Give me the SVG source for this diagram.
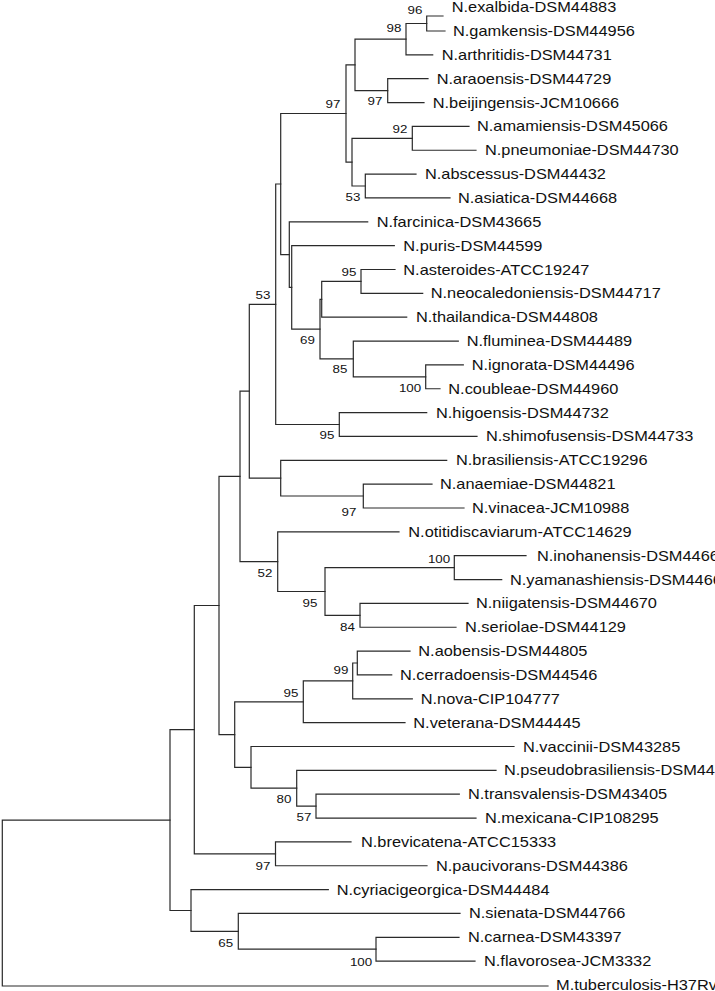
<svg xmlns="http://www.w3.org/2000/svg" width="715" height="991" viewBox="0 0 715 991">
<style>
.br{fill:none;stroke:#2a2a2a;stroke-width:1.2;stroke-linecap:square}
.lf{font-family:"Liberation Sans",Arial,sans-serif;font-size:14px;fill:#111}
.bs{font-family:"Liberation Sans",Arial,sans-serif;font-size:11.5px;fill:#111;text-anchor:middle}
</style>
<rect width="715" height="991" fill="#fff"/>
<g id="connectors">
<path class="br" d="M443,16 H426.7 V31 H445"/>
<path class="br" d="M426.7,23.5 H406 V54.85 H432.7"/>
<path class="br" d="M428,78.7 H387.7 V102.55 H424"/>
<path class="br" d="M406,39.2 H355 V90.6 H387.7"/>
<path class="br" d="M469,126.4 H412.3 V150.25 H476"/>
<path class="br" d="M416,174.1 H365.3 V197.95 H450"/>
<path class="br" d="M412.3,138.3 H352 V186 H365.3"/>
<path class="br" d="M355,64.9 H346 V162.2 H352"/>
<path class="br" d="M395,269.5 H361 V293.35 H422.7"/>
<path class="br" d="M361,281.4 H321.7 V317.2 H406.7"/>
<path class="br" d="M463.3,364.9 H425.7 V388.75 H440"/>
<path class="br" d="M458.3,341.05 H353.3 V376.8 H425.7"/>
<path class="br" d="M321.7,299.3 H320 V358.9 H353.3"/>
<path class="br" d="M394.3,245.65 H291.7 V329.1 H320"/>
<path class="br" d="M367.7,221.8 H289.3 V287.4 H291.7"/>
<path class="br" d="M346,113.5 H280.7 V254.6 H289.3"/>
<path class="br" d="M426.7,412.6 H339.3 V436.45 H477"/>
<path class="br" d="M280.7,184 H275.7 V424.5 H339.3"/>
<path class="br" d="M432,484.15 H363.3 V508 H464"/>
<path class="br" d="M446.7,460.3 H280.7 V496 H363.3"/>
<path class="br" d="M275.7,304.3 H249.3 V478.2 H280.7"/>
<path class="br" d="M526,555.7 H454.3 V579.55 H501.7"/>
<path class="br" d="M468,603.4 H360 V627.25 H456"/>
<path class="br" d="M454.3,567.6 H325 V615.3 H360"/>
<path class="br" d="M399,531.85 H277.7 V591.5 H325"/>
<path class="br" d="M249.3,391.2 H240 V561.7 H277.7"/>
<path class="br" d="M410,651.1 H357.3 V674.95 H391.7"/>
<path class="br" d="M357.3,663 H352.7 V698.8 H412.3"/>
<path class="br" d="M352.7,680.9 H303.3 V722.65 H405"/>
<path class="br" d="M459.3,794.2 H316 V818.05 H476"/>
<path class="br" d="M496,770.35 H296.7 V806.1 H316"/>
<path class="br" d="M514,746.5 H251 V788.2 H296.7"/>
<path class="br" d="M303.3,701.8 H234.7 V767.4 H251"/>
<path class="br" d="M240,476.4 H219 V734.6 H234.7"/>
<path class="br" d="M351,841.9 H275.5 V865.75 H427"/>
<path class="br" d="M219,605.5 H194.3 V853.8 H275.5"/>
<path class="br" d="M459,937.3 H376 V961.15 H475"/>
<path class="br" d="M460,913.45 H238.3 V949.2 H376"/>
<path class="br" d="M328.3,889.6 H191 V931.3 H238.3"/>
<path class="br" d="M194.3,729.7 H170 V910.5 H191"/>
<path class="br" d="M170,820.1 H2.3 V986 H548"/>
</g>
<g id="leaves">
<g id="leaf-exalbida"><text class="lf" transform="translate(451.7,12) scale(1.17,1)">N.exalbida-DSM44883</text></g>
<g id="leaf-gamkensis"><text class="lf" transform="translate(453,36) scale(1.17,1)">N.gamkensis-DSM44956</text></g>
<g id="leaf-arthritidis"><text class="lf" transform="translate(441.7,59.85) scale(1.17,1)">N.arthritidis-DSM44731</text></g>
<g id="leaf-araoensis"><text class="lf" transform="translate(436.7,83.7) scale(1.17,1)">N.araoensis-DSM44729</text></g>
<g id="leaf-beijingensis"><text class="lf" transform="translate(432.7,107.55) scale(1.17,1)">N.beijingensis-JCM10666</text></g>
<g id="leaf-amamiensis"><text class="lf" transform="translate(477,131.4) scale(1.17,1)">N.amamiensis-DSM45066</text></g>
<g id="leaf-pneumoniae"><text class="lf" transform="translate(485,155.25) scale(1.17,1)">N.pneumoniae-DSM44730</text></g>
<g id="leaf-abscessus"><text class="lf" transform="translate(425,179.1) scale(1.17,1)">N.abscessus-DSM44432</text></g>
<g id="leaf-asiatica"><text class="lf" transform="translate(458,202.95) scale(1.17,1)">N.asiatica-DSM44668</text></g>
<g id="leaf-farcinica"><text class="lf" transform="translate(376.7,226.8) scale(1.17,1)">N.farcinica-DSM43665</text></g>
<g id="leaf-puris"><text class="lf" transform="translate(403.3,250.65) scale(1.17,1)">N.puris-DSM44599</text></g>
<g id="leaf-asteroides"><text class="lf" transform="translate(403.3,274.5) scale(1.17,1)">N.asteroides-ATCC19247</text></g>
<g id="leaf-neocaledoniensis"><text class="lf" transform="translate(430.7,298.35) scale(1.17,1)">N.neocaledoniensis-DSM44717</text></g>
<g id="leaf-thailandica"><text class="lf" transform="translate(416,322.2) scale(1.17,1)">N.thailandica-DSM44808</text></g>
<g id="leaf-fluminea"><text class="lf" transform="translate(466.7,346.05) scale(1.17,1)">N.fluminea-DSM44489</text></g>
<g id="leaf-ignorata"><text class="lf" transform="translate(471.7,369.9) scale(1.17,1)">N.ignorata-DSM44496</text></g>
<g id="leaf-coubleae"><text class="lf" transform="translate(448.3,393.75) scale(1.17,1)">N.coubleae-DSM44960</text></g>
<g id="leaf-higoensis"><text class="lf" transform="translate(436,417.6) scale(1.17,1)">N.higoensis-DSM44732</text></g>
<g id="leaf-shimofusensis"><text class="lf" transform="translate(486,441.45) scale(1.17,1)">N.shimofusensis-DSM44733</text></g>
<g id="leaf-brasiliensis"><text class="lf" transform="translate(456,465.3) scale(1.17,1)">N.brasiliensis-ATCC19296</text></g>
<g id="leaf-anaemiae"><text class="lf" transform="translate(440,489.15) scale(1.17,1)">N.anaemiae-DSM44821</text></g>
<g id="leaf-vinacea"><text class="lf" transform="translate(472,513) scale(1.17,1)">N.vinacea-JCM10988</text></g>
<g id="leaf-otitidiscaviarum"><text class="lf" transform="translate(408.3,536.85) scale(1.17,1)">N.otitidiscaviarum-ATCC14629</text></g>
<g id="leaf-inohanensis"><text class="lf" transform="translate(537,560.7) scale(1.17,1)">N.inohanensis-DSM44667</text></g>
<g id="leaf-yamanashiensis"><text class="lf" transform="translate(510,584.55) scale(1.17,1)">N.yamanashiensis-DSM44669</text></g>
<g id="leaf-niigatensis"><text class="lf" transform="translate(476,608.4) scale(1.17,1)">N.niigatensis-DSM44670</text></g>
<g id="leaf-seriolae"><text class="lf" transform="translate(465,632.25) scale(1.17,1)">N.seriolae-DSM44129</text></g>
<g id="leaf-aobensis"><text class="lf" transform="translate(418.3,656.1) scale(1.17,1)">N.aobensis-DSM44805</text></g>
<g id="leaf-cerradoensis"><text class="lf" transform="translate(400,679.95) scale(1.17,1)">N.cerradoensis-DSM44546</text></g>
<g id="leaf-nova"><text class="lf" transform="translate(420.7,703.8) scale(1.17,1)">N.nova-CIP104777</text></g>
<g id="leaf-veterana"><text class="lf" transform="translate(413.3,727.65) scale(1.17,1)">N.veterana-DSM44445</text></g>
<g id="leaf-vaccinii"><text class="lf" transform="translate(523,751.5) scale(1.17,1)">N.vaccinii-DSM43285</text></g>
<g id="leaf-pseudobrasiliensis"><text class="lf" transform="translate(504,775.35) scale(1.17,1)">N.pseudobrasiliensis-DSM44290</text></g>
<g id="leaf-transvalensis"><text class="lf" transform="translate(468,799.2) scale(1.17,1)">N.transvalensis-DSM43405</text></g>
<g id="leaf-mexicana"><text class="lf" transform="translate(485,823.05) scale(1.17,1)">N.mexicana-CIP108295</text></g>
<g id="leaf-brevicatena"><text class="lf" transform="translate(361,846.9) scale(1.17,1)">N.brevicatena-ATCC15333</text></g>
<g id="leaf-paucivorans"><text class="lf" transform="translate(436,870.75) scale(1.17,1)">N.paucivorans-DSM44386</text></g>
<g id="leaf-cyriacigeorgica"><text class="lf" transform="translate(336.7,894.6) scale(1.17,1)">N.cyriacigeorgica-DSM44484</text></g>
<g id="leaf-sienata"><text class="lf" transform="translate(469,918.45) scale(1.17,1)">N.sienata-DSM44766</text></g>
<g id="leaf-carnea"><text class="lf" transform="translate(468,942.3) scale(1.17,1)">N.carnea-DSM43397</text></g>
<g id="leaf-flavorosea"><text class="lf" transform="translate(484,966.15) scale(1.17,1)">N.flavorosea-JCM3332</text></g>
<g id="leaf-tuberculosis"><text class="lf" transform="translate(556,990) scale(1.17,1)">M.tuberculosis-H37Rv</text></g>
</g>
<g id="bootstrap">
<g id="bs-1"><text class="bs" transform="translate(415,14.2) scale(1.16,1)">96</text></g>
<g id="bs-2"><text class="bs" transform="translate(394,32.2) scale(1.16,1)">98</text></g>
<g id="bs-3"><text class="bs" transform="translate(375,105.2) scale(1.16,1)">97</text></g>
<g id="bs-4"><text class="bs" transform="translate(333,108.2) scale(1.16,1)">97</text></g>
<g id="bs-5"><text class="bs" transform="translate(400,133.2) scale(1.16,1)">92</text></g>
<g id="bs-6"><text class="bs" transform="translate(353,201.2) scale(1.16,1)">53</text></g>
<g id="bs-7"><text class="bs" transform="translate(349,276.2) scale(1.16,1)">95</text></g>
<g id="bs-8"><text class="bs" transform="translate(263,299.2) scale(1.16,1)">53</text></g>
<g id="bs-9"><text class="bs" transform="translate(307.5,343.7) scale(1.16,1)">69</text></g>
<g id="bs-10"><text class="bs" transform="translate(340,373.2) scale(1.16,1)">85</text></g>
<g id="bs-11"><text class="bs" transform="translate(410,392.2) scale(1.16,1)">100</text></g>
<g id="bs-12"><text class="bs" transform="translate(327,439.2) scale(1.16,1)">95</text></g>
<g id="bs-13"><text class="bs" transform="translate(349,516.2) scale(1.16,1)">97</text></g>
<g id="bs-14"><text class="bs" transform="translate(439,563.2) scale(1.16,1)">100</text></g>
<g id="bs-15"><text class="bs" transform="translate(265,576.7) scale(1.16,1)">52</text></g>
<g id="bs-16"><text class="bs" transform="translate(310,607) scale(1.16,1)">95</text></g>
<g id="bs-17"><text class="bs" transform="translate(347.5,631.2) scale(1.16,1)">84</text></g>
<g id="bs-18"><text class="bs" transform="translate(341,674.2) scale(1.16,1)">99</text></g>
<g id="bs-19"><text class="bs" transform="translate(291,697) scale(1.16,1)">95</text></g>
<g id="bs-20"><text class="bs" transform="translate(284,803.2) scale(1.16,1)">80</text></g>
<g id="bs-21"><text class="bs" transform="translate(304,821.2) scale(1.16,1)">57</text></g>
<g id="bs-22"><text class="bs" transform="translate(263,869.7) scale(1.16,1)">97</text></g>
<g id="bs-23"><text class="bs" transform="translate(225.7,946.5) scale(1.16,1)">65</text></g>
<g id="bs-24"><text class="bs" transform="translate(361,966.2) scale(1.16,1)">100</text></g>
</g>
</svg>
